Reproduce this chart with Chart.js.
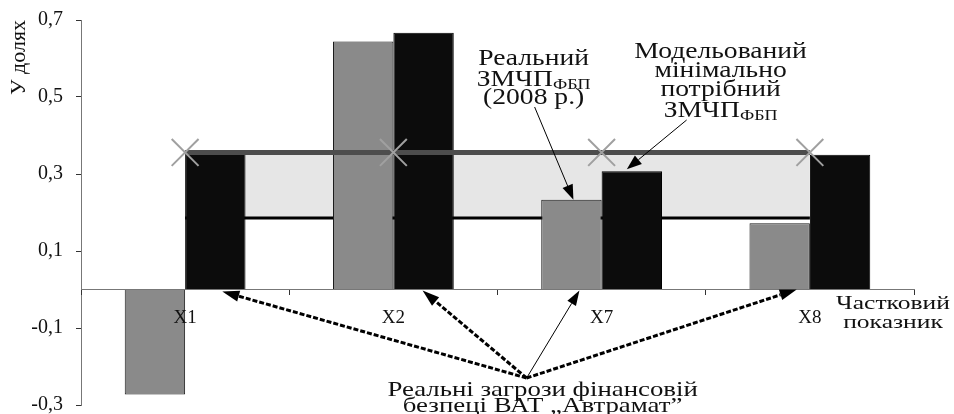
<!DOCTYPE html>
<html>
<head>
<meta charset="utf-8">
<script src="https://cdn.jsdelivr.net/npm/chart.js@4"></script>
<style>
html,body{margin:0;padding:0;background:#fff;}
#wrap{width:954px;height:414px;position:relative;}
</style>
</head>
<body>
<div id="wrap"><canvas id="c" width="954" height="414"></canvas></div>
<script>
// ---- data ----
const categories = ['X1', 'X2', 'X7', 'X8'];
const realThreat = [-0.273, 0.644, 0.233, 0.172];     // Реальний ЗМЧП ФБП (2008 р.)
const modelledMin = [0.36, 0.667, 0.307, 0.35];       // Модельований мінімально потрібний ЗМЧП ФБП
const upperBound = [0.356, 0.356, 0.356, 0.356];
const lowerBound = [0.186, 0.186, 0.186, 0.186];
const yTickValues = [-0.3, -0.1, 0.1, 0.3, 0.5, 0.7];

const SERIF = '"Liberation Serif", "Times New Roman", serif';

function drawParts(ctx, parts, cx, baseline, sx) {
  let total = 0;
  parts.forEach(p => { ctx.font = p.size + 'px ' + SERIF; p.w = ctx.measureText(p.t).width; total += p.w; });
  ctx.save();
  ctx.translate(cx, baseline);
  ctx.scale(sx, 1);
  let x = -total / 2;
  ctx.textAlign = 'left';
  ctx.textBaseline = 'alphabetic';
  ctx.fillStyle = '#111';
  parts.forEach(p => { ctx.font = p.size + 'px ' + SERIF; ctx.fillText(p.t, x, p.dy || 0); x += p.w; });
  ctx.restore();
}
function line(ctx, cx, baseline, text, size, sx) {
  drawParts(ctx, [{t: text, size: size}], cx, baseline, sx);
}
function arrow(ctx, x0, y0, x1, y1, opts) {
  const ang = Math.atan2(y1 - y0, x1 - x0);
  const L = opts.head, W = opts.headW;
  const bx = x1 - L * Math.cos(ang), by = y1 - L * Math.sin(ang);
  ctx.save();
  ctx.strokeStyle = '#000';
  ctx.fillStyle = '#000';
  ctx.lineWidth = opts.width;
  ctx.setLineDash(opts.dash || []);
  ctx.beginPath();
  ctx.moveTo(x0, y0);
  ctx.lineTo(bx, by);
  ctx.stroke();
  ctx.setLineDash([]);
  ctx.beginPath();
  ctx.moveTo(x1, y1);
  ctx.lineTo(bx + W / 2 * Math.sin(ang), by - W / 2 * Math.cos(ang));
  ctx.lineTo(bx - W / 2 * Math.sin(ang), by + W / 2 * Math.cos(ang));
  ctx.closePath();
  ctx.fill();
  ctx.restore();
}

const annotations = {
  id: 'annotations',
  afterDraw(chart) {
    const ctx = chart.ctx;
    const xs = chart.scales.x, ys = chart.scales.y;
    const real = chart.getDatasetMeta(1).data;
    const model = chart.getDatasetMeta(2).data;
    const zero = ys.getPixelForValue(0);
    const sx = 1.2;

    // top-left annotation
    const c1 = xs.getPixelForValue(2) - 68;
    line(ctx, c1, 65, 'Реальний', 23, sx);
    drawParts(ctx, [{t: 'ЗМЧП', size: 23}, {t: 'ФБП', size: 15, dy: 3}], c1, 86, sx);
    line(ctx, c1, 104, '(2008 р.)', 23, sx);

    // top-right annotation
    const c2 = xs.getPixelForValue(2) + 119;
    line(ctx, c2, 58, 'Модельований', 23, sx);
    line(ctx, c2, 77, 'мінімально', 23, sx);
    line(ctx, c2, 96, 'потрібний', 23, sx);
    drawParts(ctx, [{t: 'ЗМЧП', size: 23}, {t: 'ФБП', size: 15, dy: 3}], c2, 117, sx);

    // axis caption at bottom-right
    line(ctx, chart.chartArea.right - 21, 309, 'Частковий', 18, 1.42);
    line(ctx, chart.chartArea.right - 21, 328, 'показник', 18, 1.42);

    // bottom annotation
    const c3 = xs.getPixelForValue(2) - 59;
    line(ctx, c3, 396, 'Реальні загрози фінансовій', 22, 1.22);
    line(ctx, c3, 412, 'безпеці ВАТ „Автрамат”', 22, 1.22);

    // arrows from the top labels
    arrow(ctx, c1 + 1, 107, real[2].x + 2, real[2].y, {width: 1, head: 15, headW: 11});
    arrow(ctx, c2 - 34, 120, model[2].x - 5, model[2].y - 2, {width: 1, head: 15, headW: 11});

    // arrows from the bottom hub
    const hx = xs.getPixelForValue(2) - 75, hy = 378;
    const dashed = {width: 3, head: 17, headW: 11, dash: [5, 2]};
    arrow(ctx, hx, hy, model[0].x + 7, zero + 2, dashed);
    arrow(ctx, hx, hy, model[1].x - 1, zero + 1, dashed);
    arrow(ctx, hx, hy, real[3].x + 17, zero, dashed);
    arrow(ctx, hx, hy, real[2].x + 8, zero + 1, {width: 1, head: 15, headW: 10});
  }
};

new Chart(document.getElementById('c'), {
  type: 'bar',
  data: {
    labels: categories,
    datasets: [
      {
        type: 'line', label: 'upper', data: upperBound,
        borderColor: '#4d4d4d', borderWidth: 5,
        pointStyle: 'crossRot', pointRadius: 19, pointBorderColor: '#a0a0a0',
        pointBorderWidth: 2, pointBackgroundColor: 'rgba(0,0,0,0)',
        fill: false, order: 0
      },
      {
        type: 'bar', label: 'real', data: realThreat,
        backgroundColor: '#8a8a8a', borderColor: '#1a1a1a', borderWidth: 1, order: 1
      },
      {
        type: 'bar', label: 'modelled', data: modelledMin,
        backgroundColor: '#0c0c0c', borderColor: '#000', borderWidth: 1, order: 1
      },
      {
        type: 'line', label: 'lower', data: lowerBound,
        borderColor: '#000', borderWidth: 3, pointRadius: 0,
        fill: {target: 0}, backgroundColor: '#e6e6e6', order: 2
      }
    ]
  },
  options: {
    responsive: false,
    animation: false,
    devicePixelRatio: 1,
    categoryPercentage: 0.58,
    barPercentage: 1.0,
    layout: {autoPadding: false, padding: {left: 0, top: 20, right: 40, bottom: 9}},
    plugins: {legend: {display: false}, tooltip: {enabled: false}},
    scales: {
      x: {
        type: 'category',
        position: {y: 0},
        offset: true,
        afterFit: s => { s.paddingLeft = 0; s.paddingRight = 0; s.paddingTop = 0; s.paddingBottom = 0; },
        grid: {offset: true, drawOnChartArea: false, drawTicks: true, tickLength: 5, color: '#333', z: 1},
        border: {color: '#777', width: 1, z: 1},
        ticks: {font: {family: SERIF, size: 19}, color: '#111', padding: 12, maxRotation: 0, z: 1}
      },
      y: {
        min: -0.3, max: 0.7,
        afterBuildTicks: s => { s.ticks = yTickValues.map(v => ({value: v})); },
        afterFit: s => { s.width = 81; s.paddingTop = 0; s.paddingBottom = 0; },
        grid: {drawOnChartArea: false, tickLength: 5, color: '#333'},
        border: {color: '#777', width: 1},
        ticks: {
          font: {family: SERIF, size: 20}, color: '#111', padding: 13,
          callback: v => v.toFixed(1).replace('.', ',')
        },
        title: {display: true, text: 'У долях', align: 'end', font: {family: SERIF, size: 22}, color: '#111', padding: {top: 6, bottom: 0}}
      }
    }
  },
  plugins: [annotations]
});
</script>
</body>
</html>
